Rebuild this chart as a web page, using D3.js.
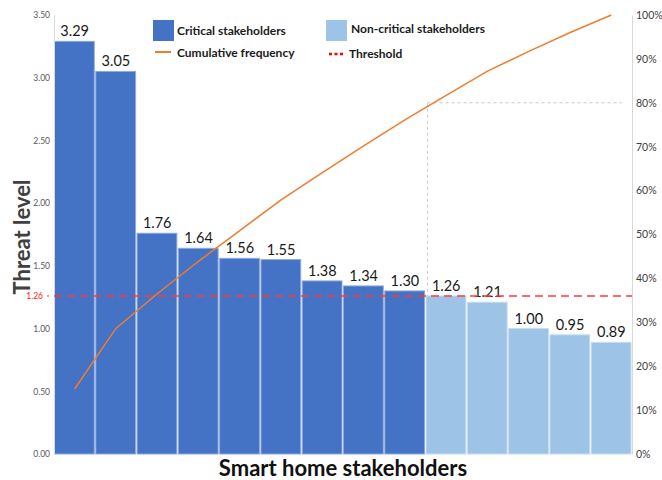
<!DOCTYPE html>
<html>
<head>
<meta charset="utf-8">
<script src="https://cdn.jsdelivr.net/npm/d3@7"></script>
<style>
  body { margin: 0; background: #fff; }
  text { font-family: Lato, "Open Sans", sans-serif; }
</style>
</head>
<body>
<div id="vis"></div>
<script>
// data
var stakeholders = ["S1","S2","S3","S4","S5","S6","S7","S8","S9","S10","S11","S12","S13","S14"];
var threatLevels = [3.29, 3.05, 1.76, 1.64, 1.56, 1.55, 1.38, 1.34, 1.30, 1.26, 1.21, 1.00, 0.95, 0.89];
var cumulativePct = [14.8, 28.6, 36.5, 43.9, 50.9, 57.9, 64.1, 70.2, 76.1, 81.7, 87.2, 91.7, 96.0, 100];
var threshold = 1.26;
var paretoCut = 80;
var leftTicks = [0, 0.5, 1.0, 1.5, 2.0, 2.5, 3.0, 3.5];
var rightTicks = [0, 10, 20, 30, 40, 50, 60, 70, 80, 90, 100];

var w = 662;
var h = 480;
var plotLeft = 54, plotRight = 632, plotTop = 15, plotBottom = 454;

var canvas = d3.select("#vis").append("svg").attr("width", w).attr("height", h);

var x = d3.scaleBand().domain(stakeholders).range([plotLeft, plotRight]).padding(0);
var y = d3.scaleLinear().domain([0, 3.5]).range([plotBottom, plotTop]);
var yPct = d3.scaleLinear().domain([0, 100]).range([plotBottom, plotTop]);

// bars
canvas.selectAll("rect.bar")
  .data(threatLevels)
  .enter()
  .append("rect")
  .attr("class", "bar")
  .attr("x", function(d, i) { return x(stakeholders[i]) + 0.5; })
  .attr("y", function(d) { return y(d); })
  .attr("width", x.bandwidth() - 1.5)
  .attr("height", function(d) { return plotBottom - y(d); })
  .attr("fill", function(d) { return d > threshold ? "#4472c4" : "#9dc3e6"; })
  .attr("stroke", function(d) { return d > threshold ? "#8eaadb" : "#c5dcf0"; })
  .attr("stroke-width", 1);

// value labels
canvas.selectAll("text.val")
  .data(threatLevels)
  .enter()
  .append("text")
  .attr("class", "val")
  .attr("x", function(d, i) { return x(stakeholders[i]) + x.bandwidth() / 2; })
  .attr("y", function(d) { return y(d) - 5; })
  .attr("text-anchor", "middle")
  .attr("font-size", 14.5)
  .attr("fill", "#1a1a1a")
  .text(function(d) { return d.toFixed(2); });

// left axis
var leftAxis = canvas.append("g")
  .attr("transform", "translate(" + plotLeft + ",0)")
  .call(d3.axisLeft(y).tickValues(leftTicks).tickSize(0).tickPadding(4).tickFormat(d3.format(".2f")));
leftAxis.select(".domain").attr("stroke", "#d9d9d9");
leftAxis.selectAll("text").attr("font-size", 8.5).attr("fill", "#595959")
  .style("font-family", "Lato, sans-serif");

// right axis
var rightAxis = canvas.append("g")
  .attr("transform", "translate(" + plotRight + ",0)")
  .call(d3.axisRight(yPct).tickValues(rightTicks).tickSize(0).tickPadding(4).tickFormat(function(d) { return d + "%"; }));
rightAxis.select(".domain").attr("stroke", "#d9d9d9");
rightAxis.selectAll("text").attr("font-size", 10.5).attr("fill", "#404040")
  .style("font-family", "Lato, sans-serif");

// threshold line
canvas.append("line")
  .attr("x1", plotLeft)
  .attr("x2", plotRight)
  .attr("y1", y(threshold))
  .attr("y2", y(threshold))
  .attr("stroke", "#ff3b3b")
  .attr("stroke-width", 1.5)
  .attr("stroke-dasharray", "8,5");
canvas.append("line")
  .attr("x1", 47)
  .attr("x2", 49)
  .attr("y1", y(threshold))
  .attr("y2", y(threshold))
  .attr("stroke", "#ff3b3b");
canvas.append("text")
  .attr("x", 43)
  .attr("y", y(threshold) + 3)
  .attr("text-anchor", "end")
  .attr("font-size", 8.5)
  .attr("fill", "#ff2020")
  .text(threshold.toFixed(2));

// 80% guide
var cutX = x(stakeholders[9]) + 2;
canvas.append("line")
  .attr("x1", cutX).attr("x2", plotRight - 10)
  .attr("y1", yPct(paretoCut)).attr("y2", yPct(paretoCut))
  .attr("stroke", "#c8c8c8").attr("stroke-dasharray", "3,3");
canvas.append("line")
  .attr("x1", cutX).attr("x2", cutX)
  .attr("y1", yPct(paretoCut)).attr("y2", y(threshold))
  .attr("stroke", "#c8c8c8").attr("stroke-dasharray", "3,3");

// cumulative line
var line = d3.line()
  .x(function(d, i) { return x(stakeholders[i]) + x.bandwidth() / 2; })
  .y(function(d) { return yPct(d); });
canvas.append("path")
  .datum(cumulativePct)
  .attr("d", line)
  .attr("fill", "none")
  .attr("stroke", "#ed7d31")
  .attr("stroke-width", 1.5);

// axis titles
canvas.append("text")
  .attr("transform", "translate(30,237) rotate(-90)")
  .attr("text-anchor", "middle")
  .attr("font-size", 22)
  .attr("font-weight", "bold")
  .attr("fill", "#404040")
  .text("Threat level");
canvas.append("text")
  .attr("x", 343)
  .attr("y", 476)
  .attr("text-anchor", "middle")
  .attr("font-size", 22)
  .attr("font-weight", "bold")
  .attr("fill", "#111")
  .text("Smart home stakeholders");

// legend
var legend = canvas.append("g");
legend.append("rect").attr("x", 153).attr("y", 20).attr("width", 21).attr("height", 21).attr("fill", "#4472c4");
legend.append("text").attr("x", 177).attr("y", 35).attr("font-size", 12).attr("font-weight", "bold").attr("fill", "#1a1a1a").text("Critical stakeholders");
legend.append("rect").attr("x", 326).attr("y", 20).attr("width", 21).attr("height", 21).attr("fill", "#9dc3e6");
legend.append("text").attr("x", 351).attr("y", 33).attr("font-size", 12).attr("font-weight", "bold").attr("fill", "#1a1a1a").text("Non-critical stakeholders");
legend.append("line").attr("x1", 155).attr("x2", 171).attr("y1", 52).attr("y2", 52).attr("stroke", "#ed7d31").attr("stroke-width", 2);
legend.append("text").attr("x", 177).attr("y", 57).attr("font-size", 12).attr("font-weight", "bold").attr("fill", "#1a1a1a").text("Cumulative frequency");
legend.append("line").attr("x1", 329).attr("x2", 343).attr("y1", 54).attr("y2", 54).attr("stroke", "#ff0000").attr("stroke-width", 2.5).attr("stroke-dasharray", "3,2.5");
legend.append("text").attr("x", 349).attr("y", 58).attr("font-size", 12).attr("font-weight", "bold").attr("fill", "#1a1a1a").text("Threshold");
</script>
</body>
</html>
